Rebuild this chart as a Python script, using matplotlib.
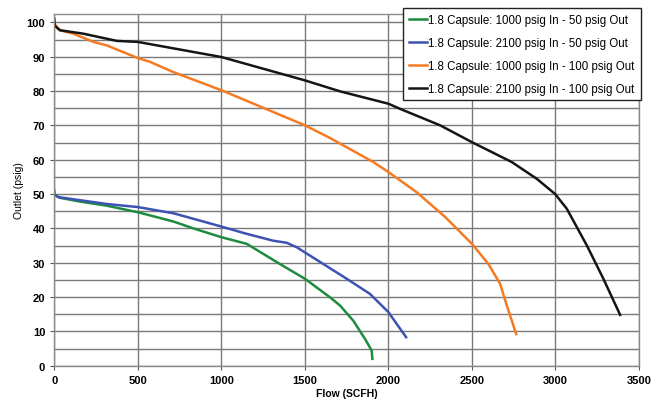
import matplotlib
matplotlib.use("Agg")
import matplotlib.pyplot as plt
from matplotlib.ticker import MultipleLocator

plt.rcParams['font.family'] = ['Liberation Sans', 'DejaVu Sans']

# 1000 psig in - 50 psig out
green_x = [0, 34, 154, 314, 500, 713, 832, 1002, 1152, 1351, 1501, 1651, 1711, 1790, 1860, 1900, 1904]
green_y = [49.8, 48.9, 47.8, 46.6, 44.7, 42.0, 40.0, 37.4, 35.5, 29.6, 25.3, 19.9, 17.5, 13.1, 7.8, 4.4, 2.0]

# 2100 psig in - 50 psig out
blue_x = [0, 2, 24, 154, 314, 500, 713, 832, 1002, 1152, 1311, 1391, 1451, 1611, 1751, 1890, 2000, 2106]
blue_y = [51.0, 49.8, 49.1, 48.2, 47.1, 46.2, 44.4, 42.8, 40.5, 38.4, 36.4, 35.8, 34.5, 29.6, 25.3, 20.9, 15.6, 8.3]

# 1000 psig in - 100 psig out
orange_x = [0, 34, 114, 234, 314, 500, 573, 713, 1002, 1501, 1651, 1910, 2000, 2170, 2340, 2500, 2599, 2669, 2709, 2765]
orange_y = [99.6, 97.7, 96.7, 94.3, 93.3, 89.6, 88.5, 85.5, 80.2, 70.0, 66.3, 59.3, 56.4, 50.5, 43.3, 35.5, 29.6, 23.8, 17.5, 9.2]

# 2100 psig in - 100 psig out
black_x = [0, 3, 34, 174, 374, 500, 1000, 1500, 1711, 2000, 2070, 2310, 2500, 2739, 2889, 2998, 3068, 3188, 3287, 3387]
black_y = [101.0, 99.0, 97.7, 96.7, 94.6, 94.3, 89.9, 83.1, 79.9, 76.3, 74.8, 70.0, 65.1, 59.3, 54.4, 50.0, 45.7, 35.0, 25.3, 14.8]

labels = [
    "1.8 Capsule: 1000 psig In - 50 psig Out",
    "1.8 Capsule: 2100 psig In - 50 psig Out",
    "1.8 Capsule: 1000 psig In - 100 psig Out",
    "1.8 Capsule: 2100 psig In - 100 psig Out",
]

fig = plt.figure(figsize=(6.57, 4.06), dpi=100)
ax = fig.add_axes([0.0826, 0.0968, 0.89, 0.866])

ax.plot(green_x, green_y, color='#1e8b3e', lw=1.8, label=labels[0])
ax.plot(blue_x, blue_y, color='#3c53b4', lw=1.8, label=labels[1])
ax.plot(orange_x, orange_y, color='#f47b22', lw=1.8, label=labels[2])
ax.plot(black_x, black_y, color='#151515', lw=1.8, label=labels[3])

ax.set_xlim(0, 3500)
ax.set_ylim(0, 102.4)
ax.xaxis.set_major_locator(MultipleLocator(500))
ax.yaxis.set_major_locator(MultipleLocator(10))
ax.yaxis.set_minor_locator(MultipleLocator(5))
ax.grid(True, which='both', color='#7a7a7a', lw=1.0)
ax.set_axisbelow(True)
ax.tick_params(which='major', labelsize=8, length=3, width=0.8, color='#555555')
ax.tick_params(which='minor', length=0)
for lab in ax.get_xticklabels() + ax.get_yticklabels():
    lab.set_fontweight('bold')
for sp in ax.spines.values():
    sp.set_color('#8a8a8a')
    sp.set_linewidth(1.0)

ax.set_xlabel("Flow (SCFH)", fontsize=7.5, fontweight='bold', labelpad=2)
ax.set_ylabel("Outlet (psig)", fontsize=7.5, labelpad=2)

leg = ax.legend(loc='upper left', bbox_to_anchor=(403 / 657, 1 - 9 / 406),
                bbox_transform=fig.transFigure, fontsize=8.3, frameon=True,
                fancybox=False, handlelength=1.6, handletextpad=0.1,
                borderpad=0.5, labelspacing=0.95, borderaxespad=0)
leg.get_frame().set_edgecolor('#222222')
leg.get_frame().set_linewidth(1.0)
leg.get_frame().set_facecolor('white')
leg.get_frame().set_alpha(1)

fig.savefig("out.png", dpi=100)
